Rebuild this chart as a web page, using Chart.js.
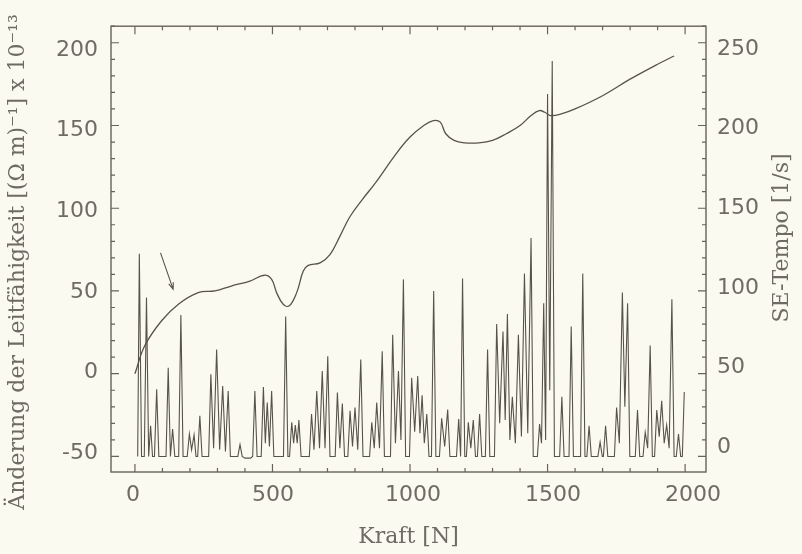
<!DOCTYPE html>
<html>
<head>
<meta charset="utf-8">
<script src="https://cdn.jsdelivr.net/npm/chart.js@4.4.1/dist/chart.umd.min.js"></script>
<style>
  html, body { margin: 0; padding: 0; background: #fbfaf1; }
  #wrap { width: 802px; height: 554px; }
</style>
</head>
<body>
<div id="wrap"><canvas id="kraftChart" width="802" height="554"></canvas></div>
<script>
// Leitfähigkeit curve (left axis)
const curveX = [0, 36, 97, 158, 230, 291, 350, 418, 470, 497, 515, 539, 561, 588, 612, 630, 673, 709, 745, 782, 830, 873,
  950, 1000, 1050, 1085, 1110, 1130, 1160, 1200, 1250, 1300, 1350, 1400, 1440, 1470, 1490, 1510, 1550, 1600, 1700, 1800, 1900, 1960];
const curveY = [0, 17, 32, 42, 49, 50, 53, 56, 59.5, 57, 49, 42, 41, 49, 62, 65.5, 67, 72, 83, 95, 106, 115,
  133, 143, 150, 153, 152, 145, 141, 139.5, 139.5, 141, 145, 150, 156, 159, 158, 156, 157, 160, 168, 178, 187, 192];

// SE-Tempo spikes (right axis)
const tempoX = [10, 16, 24, 34, 42, 50, 57, 64, 71, 79, 87, 113, 121, 129, 137, 145, 159, 167, 175, 190, 198, 206, 215, 222,
  228, 236, 244, 268, 276, 286, 297, 308, 319, 329, 339, 347, 374, 382, 390, 400, 420, 428, 436, 444, 459, 467, 474, 481,
  489, 497, 505, 540, 548, 556, 562, 570, 577, 583, 590, 596, 604, 634, 642, 651, 661, 671, 681, 691, 701, 709, 728, 736,
  745, 754, 762, 774, 782, 791, 800, 810, 821, 829, 853, 861, 870, 879, 889, 899, 907, 929, 937, 947, 958, 967, 976, 984,
  998, 1006, 1017, 1028, 1036, 1044, 1052, 1061, 1069, 1078, 1086, 1094, 1107, 1115, 1126, 1137, 1145, 1169, 1177, 1184,
  1191, 1199, 1205, 1212, 1221, 1230, 1238, 1245, 1253, 1261, 1274, 1282, 1290, 1307, 1315, 1326, 1338, 1346, 1354, 1363,
  1372, 1383, 1394, 1405, 1416, 1428, 1440, 1448, 1463, 1471, 1478, 1486, 1493, 1500, 1508, 1517, 1525, 1544, 1552, 1560,
  1578, 1586, 1594, 1620, 1628, 1636, 1643, 1651, 1659, 1683, 1691, 1699, 1703, 1711, 1719, 1743, 1751, 1761, 1772, 1781,
  1791, 1799, 1819, 1827, 1835, 1847, 1855, 1864, 1873, 1881, 1889, 1897, 1906, 1915, 1924, 1933, 1942, 1952, 1960, 1968,
  1976, 1984, 1990, 1997];
const tempoY = [0, 122.5, 0, 0, 96, 0, 18.6, 0, 0, 40.6, 0, 0, 53.6, 0, 16.6, 0, 0, 85.5, 0, 0, 13.6, 4, 13, 0,
  0, 24.6, 0, 0, 49.6, 5, 64.6, 4, 42.6, 3, 39.6, 0, 0, 7.2, 0, -1, -1, 0, 39.6, 0, 0, 42, 8, 32.6,
  6, 39.6, 0, 0, 84.5, 0, 0, 20.6, 8, 19, 8, 22, 0, 0, 25.6, 4, 39.6, 5, 51.6, 5, 60.6, 0, 0, 38.6,
  5, 32, 0, 0, 27.6, 6, 29.6, 4, 58.6, 0, 0, 20.6, 5, 32.6, 5, 63.5, 0, 0, 73.5, 8, 51.6, 10, 107, 0,
  0, 47.6, 15, 48.6, 14, 37, 8, 25.6, 0, 0, 100, 0, 0, 23, 6, 28.4, 0, 0, 22.6, 0,
  107.5, 0, 0, 20.6, 5, 22, 0, 0, 25.6, 0, 0, 64.6, 0, 0, 80, 20, 75.5, 22, 86, 10,
  36, 8, 73.5, 12, 110.5, 14, 132, 0, 0, 19.6, 8, 92.5, 10, 219, 40, 239, 0, 0, 36, 0,
  0, 78.5, 0, 0, 110.5, 0, 0, 18.6, 0, 0, 8.6, 0, 0, 18.6, 0, 0, 29.6, 8, 99, 30,
  92.5, 0, 0, 28, 0, 0, 14.6, 5, 67, 0, 0, 28, 12, 33.6, 8, 19, 5, 95, 0, 0,
  13.6, 0, 0, 39];

// axis ticks
const xTicks = [0, 500, 1000, 1500, 2000];
const leftTicks = [-50, 0, 50, 100, 150, 200];
const rightTicks = [0, 50, 100, 150, 200, 250];

// arrow annotation (data coordinates, left axis)
const arrowFrom = { x: 93, y: 73 };
const arrowTo = { x: 139, y: 51 };

const ink = "#58534a";
const labelColor = "#6f6b64";
const titleFont = "22px 'DejaVu Serif'";
const tickFont = { family: "'DejaVu Sans'", size: 22 };

const curvePoints = curveX.map((x, i) => ({ x: x, y: curveY[i] }));
const tempoPoints = tempoX.map((x, i) => ({ x: x, y: tempoY[i] }));

const paperBg = {
  id: "paperBg",
  beforeDraw(chart) {
    const ctx = chart.ctx;
    ctx.save();
    ctx.fillStyle = "#fbfaf1";
    ctx.fillRect(0, 0, chart.width, chart.height);
    ctx.restore();
  },
};

function sideTitle(ctx, text, x, y) {
  ctx.save();
  ctx.fillStyle = labelColor;
  ctx.font = titleFont;
  ctx.textAlign = "center";
  ctx.textBaseline = "middle";
  ctx.translate(x, y);
  ctx.rotate(-Math.PI / 2);
  ctx.fillText(text, 0, 0);
  ctx.restore();
}

const frameTicks = {
  id: "frameTicks",
  afterDraw(chart) {
    const { ctx, chartArea: a, scales } = chart;
    const x = scales.x, yl = scales.y, yr = scales.y2;
    ctx.save();
    ctx.strokeStyle = "#67625a";
    ctx.lineWidth = 1.4;
    ctx.strokeRect(a.left, a.top, a.right - a.left, a.bottom - a.top);
    ctx.lineWidth = 1.2;
    ctx.beginPath();
    for (let v = 0; v <= 2000; v += 100) {
      const px = x.getPixelForValue(v);
      const len = v % 500 === 0 ? 8 : 4;
      ctx.moveTo(px, a.bottom); ctx.lineTo(px, a.bottom - len);
      ctx.moveTo(px, a.top); ctx.lineTo(px, a.top + len);
    }
    for (let v = -50; v <= 210; v += 10) {
      const py = yl.getPixelForValue(v);
      const len = v % 50 === 0 ? 8 : 4;
      ctx.moveTo(a.left, py); ctx.lineTo(a.left + len, py);
    }
    for (let v = 0; v <= 260; v += 10) {
      const py = yr.getPixelForValue(v);
      const len = v % 50 === 0 ? 8 : 4;
      ctx.moveTo(a.right, py); ctx.lineTo(a.right - len, py);
    }
    ctx.stroke();

    // arrow
    const x0 = x.getPixelForValue(arrowFrom.x), y0 = yl.getPixelForValue(arrowFrom.y);
    const x1 = x.getPixelForValue(arrowTo.x), y1 = yl.getPixelForValue(arrowTo.y);
    const ang = Math.atan2(y1 - y0, x1 - x0);
    ctx.strokeStyle = ink;
    ctx.lineWidth = 1.1;
    ctx.beginPath();
    ctx.moveTo(x0, y0); ctx.lineTo(x1, y1);
    ctx.moveTo(x1 - 7 * Math.cos(ang - 0.35), y1 - 7 * Math.sin(ang - 0.35));
    ctx.lineTo(x1, y1);
    ctx.lineTo(x1 - 7 * Math.cos(ang + 0.35), y1 - 7 * Math.sin(ang + 0.35));
    ctx.stroke();
    ctx.restore();

    // axis titles, both reading bottom to top
    sideTitle(ctx, "Änderung der Leitfähigkeit [(Ω m)⁻¹] x 10⁻¹³", 18, 262);
    sideTitle(ctx, "SE-Tempo [1/s]", a.right + 76, 238);
  },
};

// the printed labels sit a little off their tick marks in the scan,
// so they get their own (hidden-data) label scales
function labelScale(position, min, max, ticks, padding, size) {
  return {
    type: "linear",
    position: position,
    min: min,
    max: max,
    afterBuildTicks: (s) => { s.ticks = ticks.map((v) => ({ value: v })); },
    afterFit: (s) => {
      if (position === "bottom") s.height = size; else s.width = size;
    },
    grid: { display: false, drawTicks: false },
    border: { display: false },
    ticks: { padding: padding, color: labelColor, font: tickFont, callback: (v) => String(v) },
  };
}

const xLab = labelScale("bottom", -78.6, 2046.4, xTicks, 10, 82);
xLab.title = {
  display: true,
  text: "Kraft [N]",
  color: labelColor,
  font: { family: "'DejaVu Serif'", size: 22 },
  padding: { top: 0, bottom: 4 },
};

const ctx = document.getElementById("kraftChart").getContext("2d");
const kraftChart = new Chart(ctx, {
  type: "scatter",
  data: {
    datasets: [
      {
        label: "Änderung der Leitfähigkeit",
        data: curvePoints,
        xAxisID: "x",
        yAxisID: "y",
        showLine: true,
        borderColor: ink,
        borderWidth: 1.3,
        pointRadius: 0,
        tension: 0.4,
      },
      {
        label: "SE-Tempo",
        data: tempoPoints,
        xAxisID: "x",
        yAxisID: "y2",
        showLine: true,
        borderColor: ink,
        borderWidth: 1.1,
        pointRadius: 0,
        tension: 0,
      },
    ],
  },
  options: {
    responsive: false,
    animation: false,
    layout: { padding: { top: 23, left: 0, right: 0, bottom: 0 } },
    plugins: {
      legend: { display: false },
      tooltip: { enabled: false },
    },
    scales: {
      x: { type: "linear", display: false, min: -87, max: 2076 },
      y: { type: "linear", display: false, position: "left", min: -59.4, max: 210 },
      y2: { type: "linear", display: false, position: "right", min: -9.4, max: 260 },
      xLab: xLab,
      yLab: labelScale("left", -61.7, 214.8, leftTicks, 13, 111),
      y2Lab: labelScale("right", -15.6, 264.3, rightTicks, 11, 96),
    },
  },
  plugins: [paperBg, frameTicks],
});
</script>
</body>
</html>
